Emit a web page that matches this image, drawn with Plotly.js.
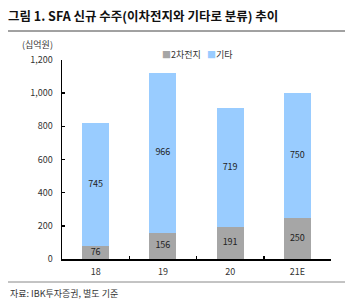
<!DOCTYPE html>
<html><head><meta charset="utf-8">
<script src="https://cdn.plot.ly/plotly-3.0.1.min.js"></script>
<style>html,body{margin:0;padding:0;background:#fff}#c{width:350px;height:303px}</style>
</head><body><div id="c"></div>
<script>
const categories = ['18', '19', '20', '21E'];
const battery = [76, 156, 191, 250];
const others = [745, 966, 719, 750];
const seriesNames = ['2차전지', '기타'];
const seriesColors = ['#A6A6A6', '#99CCFF'];
const yTicks = [0, 200, 400, 600, 800, 1000, 1200];

const F = '"Noto Sans CJK KR", "Noto Sans", sans-serif';
const barBase = {type: 'bar', x: categories, width: 0.4, hoverinfo: 'none', textposition: 'none', showlegend: false};
const batteryMid = battery.map(v => v / 2);
const othersMid = others.map((v, i) => battery[i] + v / 2);
const txtBase = {type: 'scatter', mode: 'text', x: categories, hoverinfo: 'none', showlegend: false,
                 textfont: {family: F, size: 9, color: '#222'}, cliponaxis: false};
const data = [
  Object.assign({}, barBase, {name: seriesNames[0], y: battery, marker: {color: seriesColors[0]}}),
  Object.assign({}, barBase, {name: seriesNames[1], y: others, marker: {color: seriesColors[1]}}),
  Object.assign({}, txtBase, {y: batteryMid, text: battery.map(String)}),
  Object.assign({}, txtBase, {y: othersMid, text: others.map(String)})
];
const legendText = seriesNames.map((n, i) => '<span style="color:' + seriesColors[i] + '">■</span>' + n).join('   ');
const layout = {
  width: 350, height: 303,
  margin: {l: 62, r: 19, t: 60, b: 44},
  barmode: 'stack',
  paper_bgcolor: '#fff', plot_bgcolor: '#fff',
  font: {family: F, size: 9, color: '#333'},
  title: {text: '<b>그림 1. SFA 신규 수주(이차전지와 기타로 분류) 추이</b>', x: 8/350, xanchor: 'left', xref: 'container',
          y: 1 - 17/303, yanchor: 'middle', yref: 'container', font: {family: F, size: 12.5, color: '#111'}},
  xaxis: {type: 'category', showline: true, linecolor: '#000', linewidth: 1.5, ticks: 'inside', tickson: 'boundaries', ticklen: 3,
          tickcolor: '#000', tickwidth: 1.5, tickfont: {size: 9, color: '#333'}, showgrid: false, ticklabelstandoff: 4},
  yaxis: {range: [0, 1200], tickvals: yTicks, tickformat: ',d', showline: true, linecolor: '#000', linewidth: 1.5,
          ticks: 'inside', ticklen: 3, tickcolor: '#000', tickwidth: 1.5, showgrid: false, zeroline: false,
          tickfont: {size: 9, color: '#333'}, ticklabelstandoff: 6},
  showlegend: false,
  shapes: [
    {type: 'line', xref: 'paper', yref: 'paper', x0: (8-62)/269, x1: (345-62)/269, y0: (259-31)/199, y1: (259-31)/199,
     line: {color: '#444', width: 1}},
    {type: 'line', xref: 'paper', yref: 'paper', x0: (8-62)/269, x1: (345-62)/269, y0: (259-282)/199, y1: (259-282)/199,
     line: {color: '#888', width: 1}}
  ],
  annotations: [
    {text: '(십억원)', xref: 'paper', yref: 'paper', x: (37-62)/269, y: (259-44)/199, showarrow: false,
     xanchor: 'center', yanchor: 'middle', font: {size: 9, color: '#333'}},
    {text: legendText, xref: 'paper', yref: 'paper', x: (160-62)/269, y: (259-54)/199, showarrow: false,
     xanchor: 'left', yanchor: 'middle', font: {size: 9, color: '#333'}},
    {text: '자료: IBK투자증권, 별도 기준', xref: 'paper', yref: 'paper', x: (8-62)/269, y: (259-293)/199, showarrow: false,
     xanchor: 'left', yanchor: 'middle', font: {size: 9, color: '#333'}}
  ]
};
Plotly.newPlot('c', data, layout, {staticPlot: true, displayModeBar: false});
</script></body></html>
